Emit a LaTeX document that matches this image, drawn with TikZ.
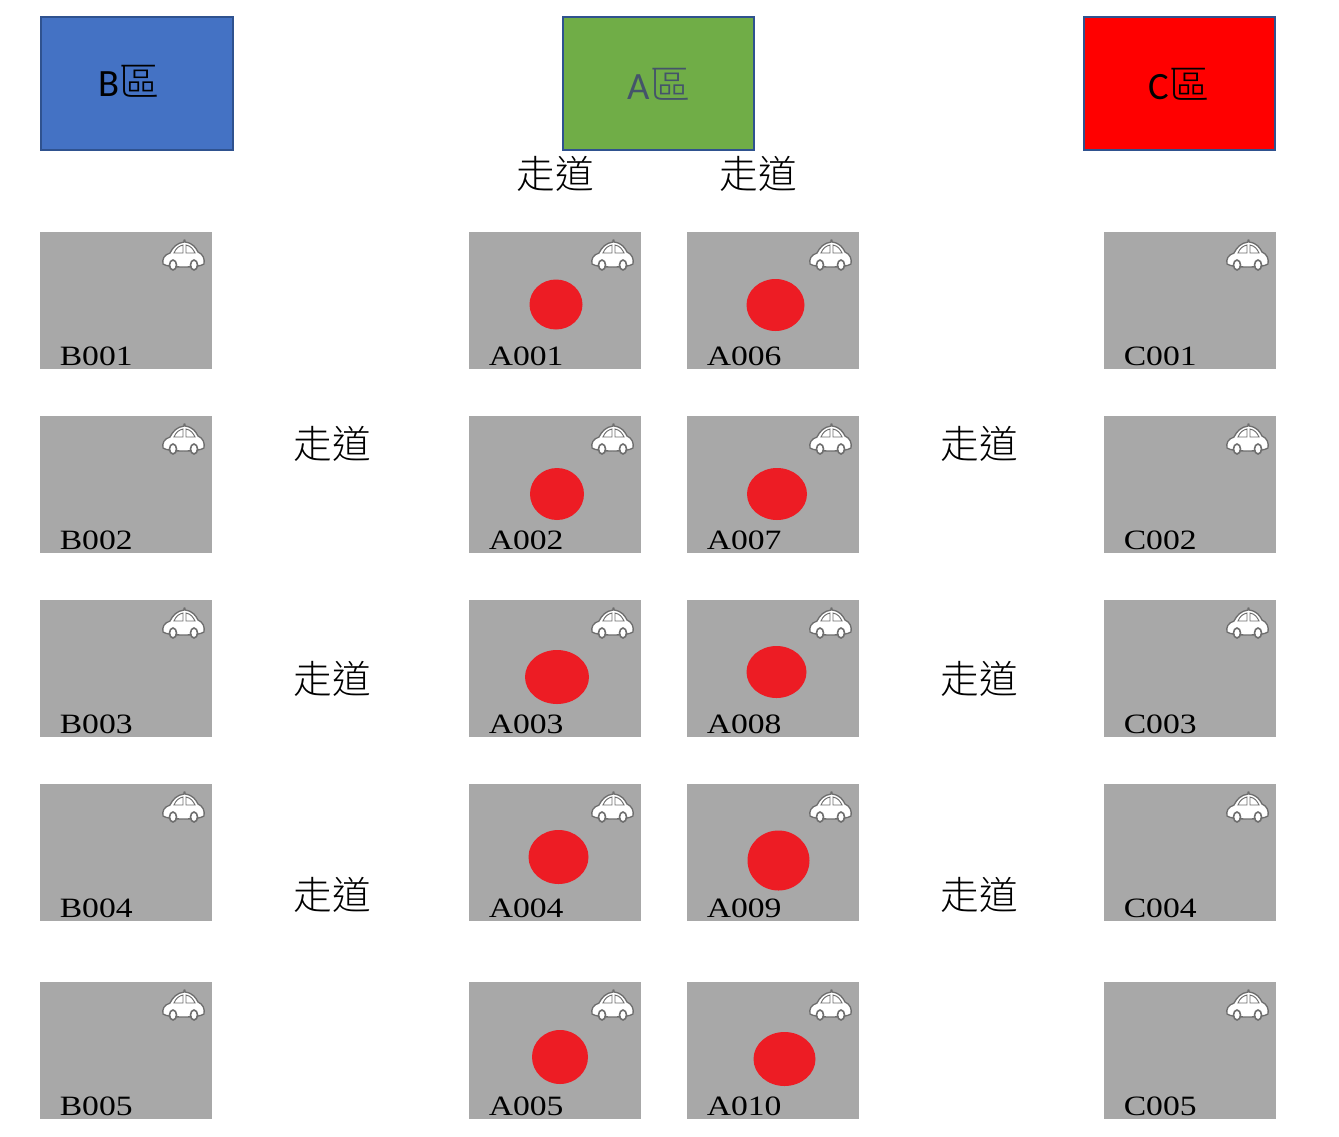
\documentclass[tikz,border=0pt]{standalone}
\usepackage{fontspec}
\setmainfont{Liberation Serif}
\newfontfamily\cjk{Noto Sans CJK TC Light}[Scale=1]
\newfontfamily\lab{Carlito}
\tikzset{x=0.75pt,y=-0.75pt,
 tile/.style={fill=tilegray,draw=none,inner sep=0pt,minimum width=128.6pt,minimum height=102.75pt,anchor=north west},
 taglabel/.style={font=\fontsize{21}{21}\selectfont,anchor=base west,inner sep=0pt,xscale=1.2,text=black},
 dot/.style={fill=dotred,draw=none},
 zone/.style={draw=zoneborder,line width=1.5pt,inner sep=0pt,anchor=north west},
 zonelabel/.style={font=\fontsize{29}{29}\selectfont,inner sep=0pt},
 aisle/.style={font=\cjk\fontsize{29}{29}\selectfont,inner sep=0pt,text=black},
 pics/car/.style={code={
  \draw[draw=cargray,fill=white,line width=1pt,line join=round]
   (-41,24) .. controls (-42,19) and (-40,15) .. (-34,13)
   .. controls (-31,7) and (-27,3) .. (-20,2) -- (-20,0) -- (-19,0) -- (-19,2)
   .. controls (-11,3) and (-8,8) .. (-6,12)
   .. controls (-1,14) and (1,19) .. (0,24)
   .. controls (-5,28) and (-36,28) .. (-41,24) -- cycle;
  \draw[draw=cargray,fill=white,line width=0.7pt] (-30,13) .. controls (-28,8) and (-25,6) .. (-21,5) -- (-21,13) -- cycle;
  \draw[draw=cargray,fill=white,line width=0.7pt] (-18,13) -- (-18,5) .. controls (-13,6) and (-11,9) .. (-9,13) -- cycle;
  \draw[draw=cargray,fill=white,line width=1.2pt] (-31,25) ellipse (3.5 and 5);
  \draw[draw=cargray,fill=white,line width=1.2pt] (-10,25) ellipse (3.5 and 5);
 }}}
\definecolor{tilegray}{HTML}{A8A8A8}
\definecolor{dotred}{HTML}{ED1C24}
\definecolor{zoneborder}{HTML}{2F528F}
\definecolor{cargray}{HTML}{6E6E6E}
\definecolor{zoneblue}{HTML}{4472C4}
\definecolor{zonegreen}{HTML}{70AD47}
\definecolor{labelslate}{HTML}{44546A}
\begin{document}
\begin{tikzpicture}
\useasboundingbox (0,0) rectangle (1339,1136);
% zones
\node[zone,fill=zoneblue,minimum width=144pt,minimum height=99.75pt] (zoneB) at (40,16) {};
\node[zone,fill=zonegreen,minimum width=143.25pt,minimum height=99.75pt] (zoneA) at (562,16) {};
\node[zone,fill=red,minimum width=143.25pt,minimum height=99.75pt] (zoneC) at (1083,16) {};
\node[zonelabel,text=black] (lb) at (129,81) {{\lab B}{\cjk\fontsize{30}{30}\selectfont 區}};
\node[zonelabel,text=labelslate] (la) at (659,84) {{\lab A}{\cjk\fontsize{30}{30}\selectfont 區}};
\node[zonelabel,text=black] (lc) at (1179,84) {{\lab C}{\cjk\fontsize{30}{30}\selectfont 區}};
% aisles
\node[aisle] (w1) at (555,174) {走道};
\node[aisle] (w2) at (758,174) {走道};
\node[aisle] (w3) at (332,444) {走道};
\node[aisle] (w4) at (332,679) {走道};
\node[aisle] (w5) at (332,895) {走道};
\node[aisle] (w6) at (979,444) {走道};
\node[aisle] (w7) at (979,679) {走道};
\node[aisle] (w8) at (979,895) {走道};
% tiles
\foreach \n/\y [count=\i] in {1/232,2/416,3/600,4/784,5/982}{
  \node[tile] (B\i) at (40,\y) {};
  \node[tile] (C\i) at (1104,\y) {};
  \pgfmathtruncatemacro{\b}{\y+133}
  \pgfmathtruncatemacro{\c}{\y+8}
  \path (204,\c) pic {car} (1268,\c) pic {car};
  \node[taglabel] (tB\i) at (59.5,\b) {B00\n};
  \node[taglabel] (tC\i) at (1123.5,\b) {C00\n};
}
\foreach \n/\m/\y in {1/6/232,2/7/416,3/8/600,4/9/784}{
  \node[tile] (A\n) at (469,\y) {};
  \node[tile] (A\m) at (687,\y) {};
  \pgfmathtruncatemacro{\b}{\y+133}
  \pgfmathtruncatemacro{\c}{\y+8}
  \path (633,\c) pic {car} (851,\c) pic {car};
  \node[taglabel] (tA\n) at (488.5,\b) {A00\n};
  \node[taglabel] (tA\m) at (706.5,\b) {A00\m};
}
\node[tile] (A5) at (469,982) {};
\node[tile] (A10) at (687,982) {};
\path (633,990) pic {car} (851,990) pic {car};
\node[taglabel] (tA5) at (488.5,1115) {A005};
\node[taglabel] (tA10) at (706.5,1115) {A010};
% dots
\foreach \x/\y/\rx/\ry in {556/304.5/26.5/25, 775.5/305/29/26, 557/494/27/26, 777/494/30/26,
  557/677/32/27, 776.5/672/30/26, 558.5/857/30/27, 778.5/860.5/31/30, 560/1057/28/27, 784.5/1059/31/27}{
  \fill[dot] (\x,\y) ellipse (\rx*0.75pt and \ry*0.75pt);
}
\end{tikzpicture}
\end{document}
